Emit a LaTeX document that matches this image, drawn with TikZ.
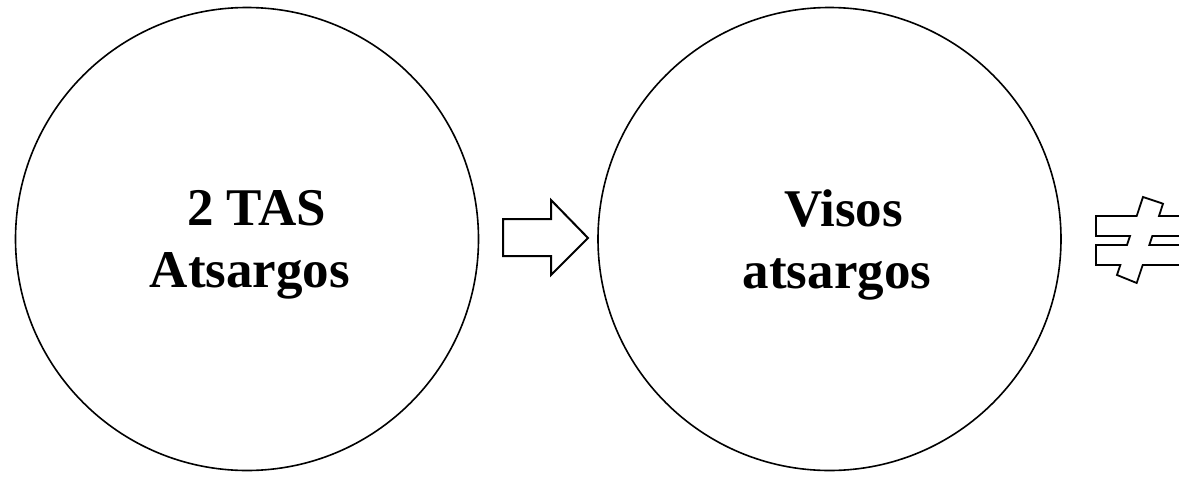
\documentclass[tikz,border=0pt]{standalone}
\usepackage{fontspec}
\setmainfont{Liberation Serif}
\usetikzlibrary{positioning}
\tikzset{
  stockcircle/.style={circle, draw, line width=1.6pt, minimum size=463pt, inner sep=0pt},
  stocktext/.style={align=center, font=\fontsize{53}{62}\selectfont\bfseries, inner sep=0pt},
  blockarrow/.style={draw, line width=2pt, fill=white, line join=miter}
}

\begin{document}
\begin{tikzpicture}[x=1pt,y=-1pt]
       \useasboundingbox (0,0) rectangle (1179,480);
       \clip (0,0) rectangle (1179,480);
       \node[stockcircle] (tas) at (247,239) {};
       \node[stocktext] (taslbl) at (250,245) {~2 TAS\\Atsargos};
       \node[stockcircle] (visi) at (829.5,239) {};
       \node[stocktext] (visilbl) at (837,245) {~Visos\\atsargos};
       \coordinate (arrtail) at (503,219);
       \draw[blockarrow] (arrtail) -- ++(48,0) -- ++(0,-19) -- ++(37,38)
       -- ++(-37,37) -- ++(0,-19) -- ++(-48,0) -- cycle;
       \coordinate (neq) at (1096,216);
       \draw[blockarrow, line width=1.8pt] (neq) -- (1136.7,216) -- (1143,197)
       -- (1163,203.7) -- (1159,216) -- (1200,216) -- (1200,236)
       -- (1152.3,236) -- (1149.3,245) -- (1200,245) -- (1200,265)
       -- (1142.7,265) -- (1136.7,283) -- (1117,275) -- (1120.3,265)
       -- (1096,265) -- (1096,245) -- (1127,245) -- (1130,236)
       -- (1096,236) -- cycle;
\end{tikzpicture}
\end{document}
